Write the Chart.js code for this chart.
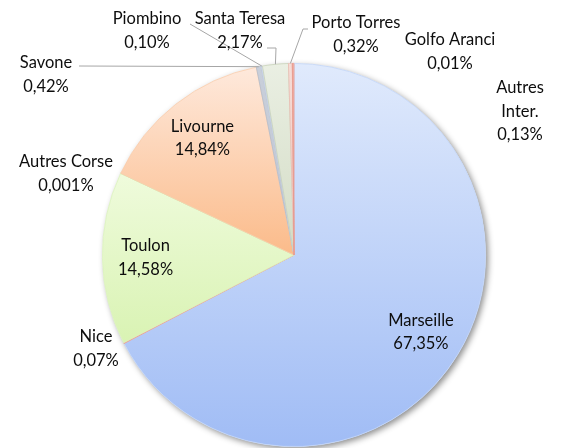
<!DOCTYPE html>
<html><head><meta charset="utf-8">
<script src="https://cdn.jsdelivr.net/npm/chart.js@4"></script>
<style>html,body{margin:0;padding:0;background:#fff}#wrap{width:562px;height:448px;position:relative}</style>
</head><body><div id="wrap"><canvas id="c" width="562" height="448"></canvas></div>
<script>
// ---- data ----
const categories = ['Marseille','Nice','Toulon','Autres Corse','Livourne','Savone','Piombino','Santa Teresa','Porto Torres','Golfo Aranci','Autres Inter.'];
const shares = [67.35, 0.07, 14.58, 0.001, 14.84, 0.42, 0.10, 2.17, 0.32, 0.01, 0.13];
const shareLabels = ['67,35%','0,07%','14,58%','0,001%','14,84%','0,42%','0,10%','2,17%','0,32%','0,01%','0,13%'];

// ---- styles ----
const sliceTop    = ['#e0eafc','#f3b4aa','#effbdc','#e6f5d0','#fee9dc','#c9cfda','#dbe3f2','#eaefe3','#f6dcd6','#f1c6bf','#f2b9b0'];
const sliceBottom = ['#a0bcf5','#ee9f92','#d9f3b3','#d9f3b3','#fbbb8a','#bfc6d3','#ccd7ec','#d3dcc5','#efc7bf','#eab0a7','#eca69c'];
const sliceEdge   = ['#c3d5f8','#ec9a8c','#dcf2bf','#d6efb6','#f9cdac','#b4bcca','#c4cfe5','#c9d3ba','#ecbcb3','#e6a79e','#e8998d'];

// label placement (text annotations): inside labels on mid-angle, others at given spots
const insideLabels = {0: ['Marseille'], 2: ['Toulon'], 4: ['Livourne']};
const outsideLabels = {
  1:  {x: 96,  y: 337, name: ['Nice']},
  3:  {x: 66,  y: 162, name: ['Autres Corse']},
  5:  {x: 46,  y: 63,  name: ['Savone'],       leader: [[79, 66]]},
  6:  {x: 147, y: 19,  name: ['Piombino'],     leader: [[190, 24]]},
  7:  {x: 240, y: 19,  name: ['Santa Teresa'], leader: [[267, 48], [276, 48]]},
  8:  {x: 356, y: 23,  name: ['Porto Torres'], leader: [[308, 29], [303, 29]]},
  9:  {x: 450, y: 40,  name: ['Golfo Aranci']},
  10: {x: 520, y: 88,  name: ['Autres', 'Inter.']}
};
const LINE_H = 23.5;
const FONT = '16.5px Lato, "Open Sans", sans-serif';

function geom(chart) {
  const a = chart.chartArea;
  return {cx: (a.left + a.right) / 2, cy: (a.top + a.bottom) / 2, r: Math.min(a.width, a.height) / 2};
}
function sliceAngles(i) {
  const total = shares.reduce((s, v) => s + v, 0);
  let before = 0;
  for (let k = 0; k < i; k++) before += shares[k];
  const a0 = -Math.PI / 2 + before / total * Math.PI * 2;
  const a1 = a0 + shares[i] / total * Math.PI * 2;
  return [a0, a1];
}
function sliceGradient(context) {
  const chart = context.chart;
  const i = context.dataIndex;
  if (!chart.chartArea) return sliceBottom[i];
  const {cx, cy, r} = geom(chart);
  const [a0, a1] = sliceAngles(i);
  const ys = [cy, cy + r * Math.sin(a0), cy + r * Math.sin(a1)];
  for (const e of [-Math.PI / 2, Math.PI / 2, Math.PI * 1.5]) {
    if (e >= a0 && e <= a1) ys.push(cy + r * Math.sin(e));
  }
  let y0 = Math.min(...ys), y1 = Math.max(...ys);
  if (y1 - y0 < 1) y1 = y0 + 1;
  const g = chart.ctx.createLinearGradient(0, y0, 0, y1);
  g.addColorStop(0, sliceTop[i]);
  g.addColorStop(1, sliceBottom[i]);
  return g;
}

const shadowPlugin = {
  id: 'pieShadow',
  beforeDatasetsDraw(chart) {
    const arc = chart.getDatasetMeta(0).data[0];
    if (!arc) return;
    const ctx = chart.ctx;
    ctx.save();
    ctx.shadowColor = 'rgba(0,0,0,0.45)';
    ctx.shadowBlur = 6;
    ctx.shadowOffsetX = 2.5;
    ctx.shadowOffsetY = 2.5;
    ctx.beginPath();
    ctx.arc(arc.x, arc.y, arc.outerRadius, 0, Math.PI * 2);
    ctx.fillStyle = '#ffffff';
    ctx.fill();
    ctx.restore();
  }
};

const labelPlugin = {
  id: 'pieLabels',
  afterDatasetsDraw(chart) {
    const ctx = chart.ctx;
    const meta = chart.getDatasetMeta(0);
    ctx.save();
    ctx.font = FONT;
    ctx.fillStyle = '#0d0d0d';
    ctx.textAlign = 'center';
    ctx.textBaseline = 'middle';
    const drawLines = (lines, x, yTop) => {
      lines.forEach((t, k) => ctx.fillText(t, x, yTop + k * LINE_H));
    };
    // inside labels
    Object.keys(insideLabels).forEach(key => {
      const i = +key;
      const arc = meta.data[i];
      const mid = (arc.startAngle + arc.endAngle) / 2;
      const d = arc.outerRadius * 0.775;
      const x = arc.x + Math.cos(mid) * d;
      const y = arc.y + Math.sin(mid) * d;
      const lines = insideLabels[i].concat([shareLabels[i]]);
      drawLines(lines, x, y - (lines.length - 1) * LINE_H / 2);
    });
    // outside labels & leaders
    ctx.strokeStyle = '#a6a6a6';
    ctx.lineWidth = 1;
    Object.keys(outsideLabels).forEach(key => {
      const i = +key;
      const L = outsideLabels[i];
      const arc = meta.data[i];
      if (L.leader) {
        const mid = (arc.startAngle + arc.endAngle) / 2;
        const ex = arc.x + Math.cos(mid) * arc.outerRadius;
        const ey = arc.y + Math.sin(mid) * arc.outerRadius;
        ctx.beginPath();
        ctx.moveTo(L.leader[0][0], L.leader[0][1]);
        for (let k = 1; k < L.leader.length; k++) ctx.lineTo(L.leader[k][0], L.leader[k][1]);
        ctx.lineTo(ex, ey);
        ctx.stroke();
      }
      drawLines(L.name.concat([shareLabels[i]]), L.x, L.y);
    });
    ctx.restore();
  }
};

new Chart(document.getElementById('c'), {
  type: 'pie',
  data: {
    labels: categories,
    datasets: [{
      data: shares,
      backgroundColor: sliceGradient,
      borderColor: sliceEdge,
      borderWidth: 0.8
    }]
  },
  options: {
    responsive: false,
    animation: false,
    layout: {padding: {left: 102, right: 76, top: 63, bottom: 1}},
    plugins: {legend: {display: false}, tooltip: {enabled: false}}
  },
  plugins: [shadowPlugin, labelPlugin]
});
</script>
</body></html>
